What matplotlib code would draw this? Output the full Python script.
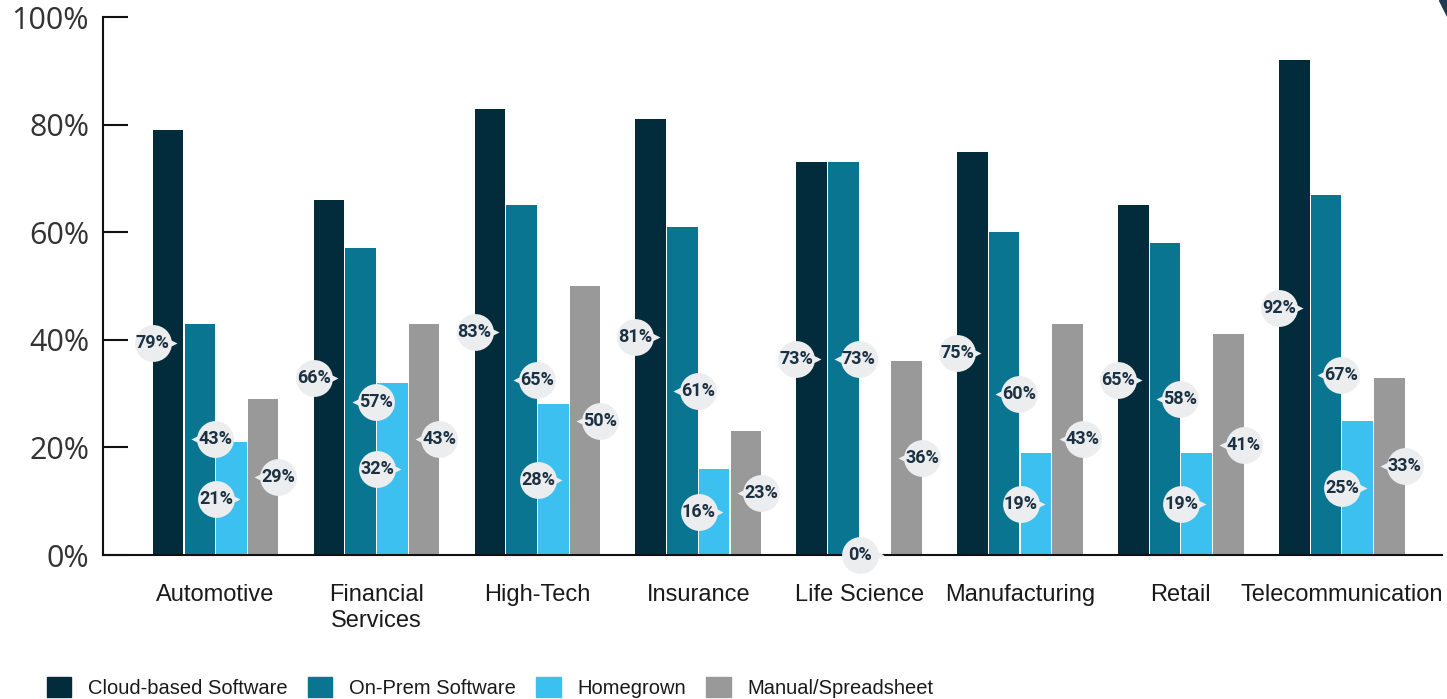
import matplotlib.pyplot as plt
import numpy as np
from matplotlib.patches import Patch, Polygon
from matplotlib.transforms import ScaledTranslation

industries = ['Automotive', 'Financial\nServices', 'High-Tech', 'Insurance',
              'Life Science', 'Manufacturing', 'Retail', 'Telecommunication']
series_names = ['Cloud-based Software', 'On-Prem Software', 'Homegrown', 'Manual/Spreadsheet']
cloud = [79, 66, 83, 81, 73, 75, 65, 92]
on_prem = [43, 57, 65, 61, 73, 60, 58, 67]
homegrown = [21, 32, 28, 16, 0, 19, 19, 25]
manual = [29, 43, 50, 23, 36, 43, 41, 33]

colors = ['#022b3b', '#0a7591', '#3cc0ef', '#999999']
values = [cloud, on_prem, homegrown, manual]

fig = plt.figure(figsize=(14.47, 6.99), dpi=100)
ax = fig.add_axes([0.0712, 0.206, 0.925, 0.7695])

x = np.arange(len(industries))
step = 0.197
width = 0.19
offsets = (np.arange(4) - 1.5) * step

# badge sits on the left or right edge of its bar, pointer aimed at the bar
edge_side = [-1, 1, -1, 1]

for i, (vals, col) in enumerate(zip(values, colors)):
    xs = x + offsets[i]
    ax.bar(xs, vals, width=width, color=col, zorder=2)
    for xi, v in zip(xs, vals):
        bx = xi + edge_side[i] * width / 2
        by = v / 2
        pointer = '>' if edge_side[i] < 0 else '<'
        shift = ScaledTranslation(-edge_side[i] * 11 / 72, 0, fig.dpi_scale_trans)
        ax.plot(bx, by, marker=pointer, ms=13, color='#ecedef', mec='none',
                transform=ax.transData + shift, zorder=4, clip_on=False)
        ax.plot(bx, by, marker='o', ms=26.5, color='#ecedef', mec='none',
                zorder=5, clip_on=False)
        ax.text(bx, by, f'{v}%', ha='center', va='center', fontsize=13,
                fontweight='bold', family='Roboto', color='#1b3142', zorder=6)

ax.set_ylim(0, 100)
ax.set_xlim(-0.70, 7.62)
ax.set_yticks(range(0, 101, 20))
ax.set_yticklabels([f'{t}%' for t in range(0, 101, 20)], family='Open Sans',
                   fontsize=22, color='#333333')
ax.tick_params(axis='y', direction='in', length=18, width=1.5, pad=10, color='#111111')
ax.set_xticks(x)
ax.set_xticklabels(industries, family='Liberation Sans', fontsize=17,
                   color='#1a1a1a', linespacing=1.2)
ax.tick_params(axis='x', length=0, pad=21)

for side in ['top', 'right']:
    ax.spines[side].set_visible(False)
ax.spines['left'].set_linewidth(1.5)
ax.spines['bottom'].set_linewidth(1.5)
ax.spines['left'].set_color('#111111')
ax.spines['bottom'].set_color('#111111')

handles = [Patch(color=c, label=n) for c, n in zip(colors, series_names)]
fig.legend(handles=handles, loc='lower left', bbox_to_anchor=(0.02, -0.024),
           ncol=4, frameon=False, prop={'family': 'Liberation Sans', 'size': 14.5},
           handlelength=1.2, handleheight=1.15, handletextpad=0.85,
           columnspacing=1.0, labelcolor='#1a1a1a')

# corner accent
fig.patches.append(Polygon([(1439 / 1447, 1.0), (1.0, 1.0), (1.0, 683 / 699)],
                           closed=True, transform=fig.transFigure,
                           color='#1d3a52', zorder=10))

fig.savefig('out.png', dpi=100)
